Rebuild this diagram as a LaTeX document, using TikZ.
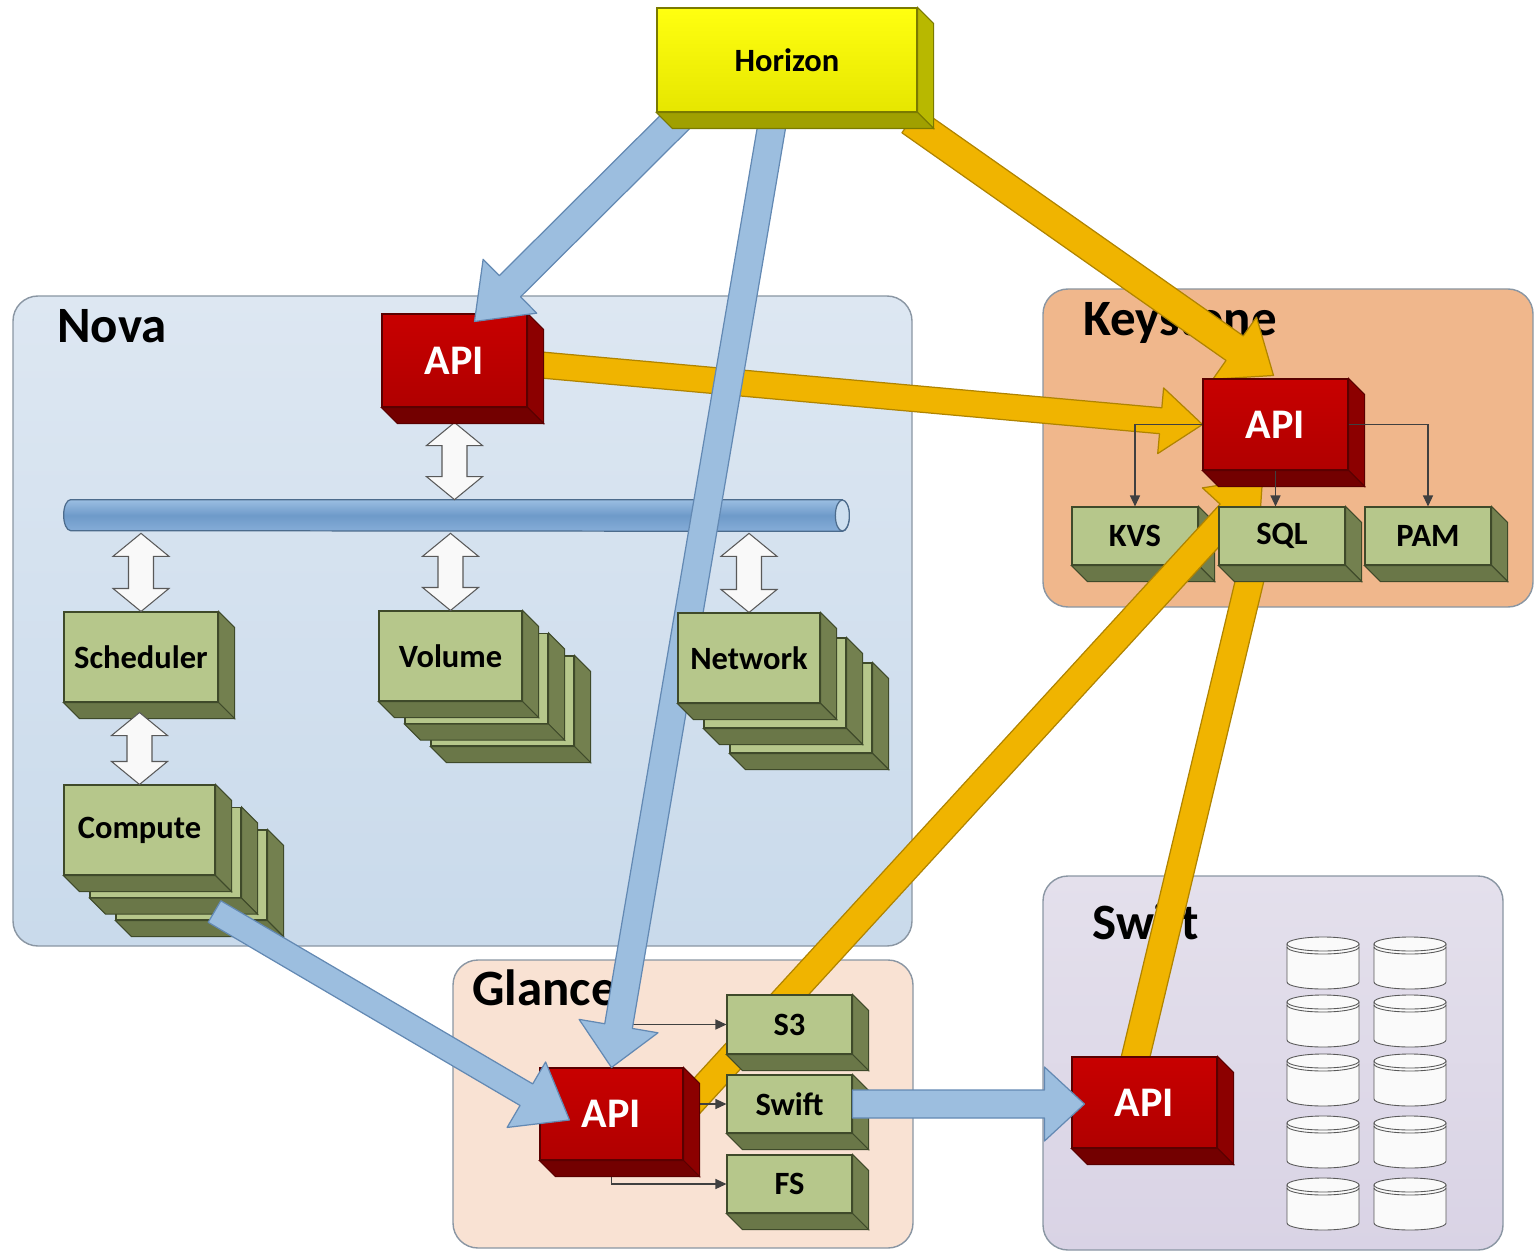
\documentclass[tikz,border=0pt]{standalone}
\usepackage{fontspec}
\setmainfont{Carlito}
\usetikzlibrary{calc}
\usetikzlibrary{arrows.meta}
\definecolor{novatop}{HTML}{DDE7F2}
\definecolor{novafill}{HTML}{C9DAEB}
\definecolor{keyfill}{HTML}{F0B78C}
\definecolor{glancefill}{HTML}{F9E2D3}
\definecolor{swifttop}{HTML}{E4E0EC}
\definecolor{swiftfill}{HTML}{D9D3E5}
\definecolor{frameline}{HTML}{8A96A3}
\definecolor{greenface}{HTML}{B6C78B}
\definecolor{greenside}{HTML}{73804F}
\definecolor{greenbot}{HTML}{6A7748}
\definecolor{greenline}{HTML}{3F4A2A}
\definecolor{redface}{HTML}{C80000}
\definecolor{redlow}{HTML}{B00000}
\definecolor{redside}{HTML}{8C0000}
\definecolor{redbot}{HTML}{730000}
\definecolor{redline}{HTML}{5A0000}
\definecolor{yellowface}{HTML}{FFFF10}
\definecolor{yellowlow}{HTML}{E6E600}
\definecolor{yellowside}{HTML}{B8B800}
\definecolor{yellowbot}{HTML}{A0A000}
\definecolor{yellowline}{HTML}{7A7A00}
\definecolor{arrowblue}{HTML}{9CBEDF}
\definecolor{arrowblueline}{HTML}{6389B3}
\definecolor{arroworange}{HTML}{F0B400}
\definecolor{arroworangeline}{HTML}{B08400}
\definecolor{bustop}{HTML}{9BBEE2}
\definecolor{busmid}{HTML}{6E9AC9}
\definecolor{busbot}{HTML}{86ADD8}
\definecolor{busline}{HTML}{4C6B8C}
\definecolor{linkgray}{HTML}{404040}

\newcommand{\lblfont}{\fontsize{18.5}{21}\selectfont\bfseries}
\newcommand{\apifont}{\fontsize{24}{28}\selectfont\bfseries}
\newcommand{\ttlfont}{\fontsize{29}{33}\selectfont\bfseries}
\newcommand{\pxu}{0.02cm}

\pgfdeclarelayer{base}
\pgfdeclarelayer{orange}
\pgfdeclarelayer{blue}
\pgfdeclarelayer{top}
\pgfsetlayers{base,orange,main,blue,top}

\tikzset{
  container/.style={draw=frameline, line width=0.8pt, rounded corners=0.5cm},
  boxtitle/.style={font=\ttlfont, inner sep=0pt, anchor=base west},
  green face/.style={draw=greenline, fill=greenface, inner sep=0pt, font=\lblfont, line width=0.6pt},
  green side/.style={draw=greenline, fill=greenside, line width=0.6pt},
  green bottom/.style={draw=greenline, fill=greenbot, line width=0.6pt},
  red face/.style={draw=redline, top color=redface, bottom color=redlow, text=white, inner sep=0pt, font=\apifont, line width=0.6pt},
  red side/.style={draw=redline, fill=redside, line width=0.6pt},
  red bottom/.style={draw=redline, fill=redbot, line width=0.6pt},
  yellow face/.style={draw=yellowline, top color=yellowface, bottom color=yellowlow, inner sep=0pt, font=\lblfont, line width=0.6pt},
  yellow side/.style={draw=yellowline, fill=yellowside, line width=0.6pt},
  yellow bottom/.style={draw=yellowline, fill=yellowbot, line width=0.6pt},
  twoway/.style={draw=gray!70!black, fill=white!95!gray, line width=0.6pt},
  blue arrow/.style={draw=arrowblueline, fill=arrowblue, line width=0.7pt, line join=round},
  orange arrow/.style={draw=arroworangeline, fill=arroworange, line width=0.7pt, line join=round},
  link/.style={draw=linkgray, line width=0.7pt, -{Triangle[length=0.22cm, width=0.2cm]}},
  drum/.style={draw=gray!70!black, fill=white!96!gray, line width=0.5pt},
  drumline/.style={draw=gray!70!black, line width=0.5pt}
}

% box with a front face (the node) and a dark extrusion to the lower right
\newcommand{\solidbox}[6]{%
  \node[#5 face, minimum width=#3*\pxu, minimum height=#4*\pxu] (#1) at (#2) {#6};
  \draw[#5 side] (#1.north east) -- ++(16,16) -- ($(#1.south east)+(16,16)$) -- (#1.south east) -- cycle;
  \draw[#5 bottom] (#1.south west) -- ($(#1.south west)+(16,16)$) -- ($(#1.south east)+(16,16)$) -- (#1.south east) -- cycle;
}
% white vertical double arrow
\newcommand{\twoway}[2]{%
  \coordinate (tw-a) at #1;
  \coordinate (tw-b) at #2;
  \draw[twoway] (tw-a) -- ++(28,23) -- ++(-15.5,0) -- ($(tw-b)+(12.5,-23)$) -- ++(15.5,0) -- (tw-b) -- ++(-28,-23) -- ++(15.5,0) -- ($(tw-a)+(-12.5,23)$) -- ++(-15.5,0) -- cycle;
}
% thick block arrow: style, from, to, half shaft, half head, head length
\newcommand{\bigarrow}[6]{%
  \coordinate (ba-s) at #2;
  \coordinate (ba-e) at #3;
  \coordinate (ba-n) at ($(ba-e)!#6!(ba-s)$);
  \draw[#1] ($(ba-s)!#4!90:(ba-e)$) -- ($(ba-n)!#4!-90:(ba-s)$) -- ($(ba-n)!#5!-90:(ba-s)$) -- (ba-e) -- ($(ba-n)!#5!90:(ba-s)$) -- ($(ba-n)!#4!90:(ba-s)$) -- ($(ba-s)!#4!-90:(ba-e)$) -- cycle;
}
\newcommand{\bigshaft}[4]{%
  \coordinate (ba-s) at #2;
  \coordinate (ba-e) at #3;
  \draw[#1] ($(ba-s)!#4!90:(ba-e)$) -- ($(ba-e)!#4!-90:(ba-s)$) -- ($(ba-e)!#4!90:(ba-s)$) -- ($(ba-s)!#4!-90:(ba-e)$) -- cycle;
}

\begin{document}
\begin{tikzpicture}[x=0.02cm, y=-0.02cm]
  \useasboundingbox (0,0) rectangle (1534,1253);
  %
  \begin{pgfonlayer}{base}
    \draw[container, top color=novatop, bottom color=novafill] (13,296) rectangle (912,946);
    \node[boxtitle] (novatitle) at (57,342) {Nova};
    \draw[container, fill=keyfill] (1043,289) rectangle (1533,607);
    \node[boxtitle] (keytitle) at (1083,336) {Keystone};
    \draw[container, fill=glancefill] (453,960) rectangle (913,1248);
    \node[boxtitle] (glancetitle) at (472,1005) {Glance};
    \draw[container, top color=swifttop, bottom color=swiftfill] (1043,876) rectangle (1503,1250);
    \node[boxtitle] (swifttitle) at (1092,939) {Swift};
    %
    % message bus
    \node[minimum width=771*\pxu, minimum height=31*\pxu, inner sep=0pt] (bus) at (456.5,515.5) {};
    \draw[draw=busline, line width=0.7pt, top color=bustop, bottom color=busbot, middle color=busmid] (bus.north east) -- (bus.north west) arc[start angle=90, end angle=270, x radius=0.14cm, y radius=0.31cm] -- (bus.south east) arc[start angle=-90, end angle=90, x radius=0.14cm, y radius=0.31cm] -- cycle;
    \draw[draw=busline, line width=0.7pt, fill=bustop!50!white] (bus.east) ellipse [x radius=0.14cm, y radius=0.31cm];
    %
    \solidbox{sched}{141,657}{154}{90}{green}{Scheduler}
    \solidbox{vol3}{502.5,701}{143}{90}{green}{}
    \solidbox{vol2}{476.5,678.5}{143}{90}{green}{}
    \solidbox{vol}{450.5,656}{143}{90}{green}{Volume}
    \solidbox{comp3}{191.5,875}{151}{90}{green}{}
    \solidbox{comp2}{165.5,852.5}{151}{90}{green}{}
    \solidbox{comp}{139.5,830}{151}{90}{green}{Compute}
    \solidbox{kvs}{1135,536}{126}{58}{green}{KVS}
  \end{pgfonlayer}
  %
  \begin{pgfonlayer}{top}
    \solidbox{net3}{801,708}{142}{90}{green}{}
    \solidbox{net2}{775,683}{142}{90}{green}{}
    \solidbox{net}{749,658}{142}{90}{green}{Network}
    \solidbox{hor}{787,60}{260}{104}{yellow}{Horizon}
  \end{pgfonlayer}
  %
  \solidbox{sql}{1282,536}{126}{58}{green}{SQL}
  \solidbox{pam}{1428,536}{126}{58}{green}{PAM}
  \solidbox{kapi}{1275.5,424.5}{145}{91}{red}{API}
  \draw[link] (kapi.west) -| (kvs.north);
  \draw[link] (kapi.east) -| (pam.north);
  \draw[link] (kapi.south) -- (kapi.south |- sql.north);
  %
  \solidbox{napi}{454.5,360.5}{145}{93}{red}{API}
  \solidbox{s3}{789.5,1024.5}{125}{59}{green}{S3}
  \solidbox{gswift}{789.5,1104}{125}{58}{green}{Swift}
  \solidbox{fs}{789.5,1184}{125}{58}{green}{FS}
  \solidbox{gapi}{611.5,1114}{143}{92}{red}{API}
  \solidbox{sapi}{1144.5,1102.5}{145}{91}{red}{API}
  %
  \begin{pgfonlayer}{base}
    \twoway{($(napi.south)+(0,15)$)}{(napi.south |- bus.north)}
    \twoway{($(sched.north |- bus.south)+(0,2)$)}{(sched.north)}
    \twoway{($(vol.north |- bus.south)+(0,2)$)}{(vol.north)}
    \twoway{($(net.north |- bus.south)+(0,2)$)}{(net.north)}
    \twoway{($(comp.north |- sched.south)+(0,10)$)}{(comp.north)}
    %
    % storage drums
    \foreach \cx in {1323,1410}{
      \foreach \cy in {937,995,1054,1116,1178}{
        \draw[drum] ({\cx-36},{\cy+7}) -- ({\cx-36},{\cy+45}) arc[start angle=180, end angle=360, x radius=0.72cm, y radius=0.14cm] -- ({\cx+36},{\cy+7}) -- cycle;
        \draw[drum] (\cx,{\cy+7}) ellipse [x radius=0.72cm, y radius=0.14cm];
        \draw[drumline] ({\cx-36},{\cy+10}) arc[start angle=180, end angle=360, x radius=0.72cm, y radius=0.14cm];
      }
    }
  \end{pgfonlayer}
  %
  \begin{pgfonlayer}{orange}
    \bigarrow{orange arrow}{($(hor.south east)+(-7,8)$)}{($(kapi.north)+(-2,-3)$)}{0.3cm}{0.76cm}{0.95cm}
    \bigarrow{orange arrow}{($(napi.east)+(8,4)$)}{(kapi.west)}{0.26cm}{0.66cm}{0.84cm}
    \bigarrow{orange arrow}{($(gapi.east)+(5,-9)$)}{($(kapi.south)+(-13,8)$)}{0.28cm}{0.76cm}{0.95cm}
    \bigshaft{orange arrow}{($(sapi.north)+(-10,5)$)}{($(sql.south)+(-30,5)$)}{0.28cm}
    %
    \draw[link] (gapi.north) |- (s3.west);
    \draw[link] (gapi.east |- gswift.west) -- (gswift.west);
    \draw[link] (gapi.south) |- (fs.west);
  \end{pgfonlayer}
  %
  \begin{pgfonlayer}{blue}
    \bigarrow{blue arrow}{($(hor.south west)+(28,0)$)}{($(napi.north)+(20,8)$)}{0.3cm}{0.76cm}{1cm}
    \bigarrow{blue arrow}{($(hor.south)+(-13,0)$)}{(gapi.north)}{0.28cm}{0.8cm}{0.84cm}
    \bigarrow{blue arrow}{($(comp.south east)+(-1,36)$)}{($(gapi.west)+(30,6)$)}{0.25cm}{0.76cm}{1cm}
    \bigarrow{blue arrow}{(gswift.east)}{($(sapi.west |- gswift.east)+(13,0)$)}{0.28cm}{0.74cm}{0.8cm}
  \end{pgfonlayer}
\end{tikzpicture}
\end{document}
